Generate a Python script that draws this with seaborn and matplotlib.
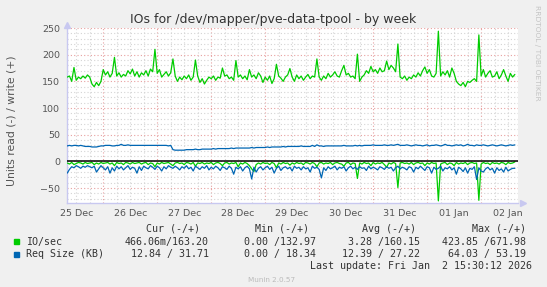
import numpy as np
import pandas as pd
import matplotlib
matplotlib.use('Agg')
import matplotlib.pyplot as plt
from matplotlib.ticker import MultipleLocator, FuncFormatter
from matplotlib.patches import Rectangle
import seaborn as sns

# hours since 25 Dec 00:00, one sample per hour
hours = list(range(8, 208))
day_labels = ['25 Dec', '26 Dec', '27 Dec', '28 Dec', '29 Dec',
              '30 Dec', '31 Dec', '01 Jan', '02 Jan']

io_write = [
    158, 160, 150, 176, 152, 158, 155, 160, 156, 162,
    158, 145, 140, 148, 142, 150, 172, 162, 168, 158,
    165, 195, 160, 166, 158, 163, 160, 170, 164, 173,
    160, 168, 158, 166, 162, 170, 160, 173, 168, 210,
    165, 172, 158, 163, 168, 160, 166, 192, 160, 150,
    158, 153, 160, 155, 162, 152, 158, 190, 160, 148,
    155, 145, 152, 158, 155, 160, 152, 158, 156, 175,
    160, 162, 155, 158, 152, 189, 158, 162, 155, 160,
    153, 172, 158, 162, 155, 166, 160, 148, 158, 152,
    160, 146, 155, 182, 160, 156, 150, 158, 162, 174,
    158, 150, 162, 155, 160, 152, 158, 163, 155, 160,
    158, 192, 158, 152, 160, 155, 165, 158, 162, 168,
    160, 158, 170, 180, 162, 165, 158, 160, 155, 201,
    150, 158, 162, 170, 165, 178, 168, 172, 165, 175,
    168, 170, 188, 172, 180, 175, 168, 220, 158, 155,
    160, 152, 158, 155, 162, 158, 166, 160, 170, 177,
    165, 172, 160, 158, 165, 244, 160, 168, 162, 170,
    158, 175, 165, 150, 145, 142, 148, 140, 150, 148,
    152, 155, 150, 237, 160, 172, 158, 165, 170, 158,
    160, 168, 155, 162, 172, 160, 150, 165, 158, 163,
]

io_read = [
    -3, -5, -2, -6, -4, -2, -3, -5, -2, -4,
    -3, -2, -6, -3, -5, -2, -4, -3, -2, -5,
    -3, -8, -2, -4, -3, -6, -2, -3, -5, -2,
    -4, -3, -2, -5, -3, -2, -6, -3, -4, -10,
    -3, -5, -2, -4, -3, -2, -5, -8, -3, -2,
    -4, -3, -6, -2, -3, -5, -2, -9, -3, -4,
    -2, -5, -3, -4, -2, -6, -3, -2, -4, -8,
    -3, -2, -5, -3, -4, -2, -10, -3, -5, -2,
    -4, -8, -14, -19, -6, -3, -5, -2, -4, -3,
    -6, -2, -4, -12, -3, -5, -2, -4, -3, -7,
    -3, -5, -2, -4, -3, -6, -2, -3, -5, -2,
    -4, -10, -3, -2, -5, -3, -4, -2, -6, -3,
    -2, -4, -5, -9, -3, -2, -6, -3, -4, -32,
    -3, -5, -2, -4, -3, -8, -2, -5, -3, -4,
    -2, -6, -11, -3, -5, -2, -4, -49, -3, -2,
    -4, -3, -5, -2, -6, -3, -2, -4, -3, -8,
    -3, -5, -2, -4, -3, -74, -5, -3, -2, -6,
    -3, -4, -8, -2, -5, -3, -4, -2, -6, -3,
    -2, -4, -3, -73, -5, -2, -4, -3, -6, -2,
    -4, -3, -5, -2, -3, -6, -2, -4, -3, -1,
]

req_write = [
    29, 30, 29, 30, 30, 29, 30, 29, 28, 28,
    28, 27, 27, 27, 28, 29, 29, 30, 30, 30,
    29, 29, 30, 30, 32, 30, 30, 31, 30, 30,
    30, 30, 30, 30, 30, 30, 30, 30, 30, 30,
    30, 30, 30, 30, 30, 29, 30, 22, 21, 21,
    21, 21, 21, 22, 22, 22, 22, 23, 22, 22,
    23, 23, 23, 23, 23, 24, 23, 24, 24, 24,
    24, 24, 24, 25, 24, 25, 25, 25, 25, 25,
    25, 25, 26, 25, 26, 26, 26, 26, 26, 27,
    26, 27, 27, 27, 27, 27, 28, 27, 28, 28,
    28, 28, 28, 28, 29, 28, 28, 28, 28, 30,
    28, 31, 29, 29, 28, 29, 29, 29, 29, 29,
    29, 29, 29, 30, 29, 29, 29, 29, 30, 29,
    30, 29, 30, 30, 30, 30, 31, 30, 30, 30,
    30, 31, 30, 30, 31, 30, 31, 32, 30, 30,
    30, 31, 30, 29, 30, 31, 30, 30, 29, 30,
    31, 29, 30, 30, 31, 30, 29, 30, 32, 30,
    30, 29, 30, 31, 30, 31, 29, 30, 32, 30,
    30, 29, 31, 30, 30, 31, 30, 29, 30, 31,
    30, 29, 30, 31, 30, 29, 30, 31, 30, 31,
]

req_read = [
    -22, -15, -10, -12, -8, -10, -13, -9, -11, -8,
    -10, -12, -9, -20, -14, -8, -12, -16, -10, -22,
    -12, -18, -9, -14, -10, -16, -12, -8, -15, -11,
    -13, -22, -10, -17, -9, -12, -14, -8, -11, -15,
    -9, -12, -18, -10, -14, -8, -11, -13, -9, -12,
    -16, -10, -13, -8, -14, -11, -18, -9, -12, -15,
    -10, -13, -8, -16, -11, -14, -9, -12, -17, -10,
    -12, -15, -9, -13, -24, -11, -14, -10, -18, -12,
    -9, -14, -33, -11, -20, -13, -10, -16, -12, -9,
    -15, -11, -22, -13, -9, -17, -12, -10, -14, -11,
    -18, -9, -13, -11, -16, -10, -14, -12, -20, -9,
    -13, -11, -15, -31, -12, -17, -10, -14, -12, -9,
    -16, -11, -13, -10, -18, -12, -9, -14, -11, -15,
    -10, -13, -12, -17, -9, -14, -11, -13, -16, -10,
    -12, -15, -10, -13, -11, -18, -12, -9, -14, -11,
    -13, -16, -10, -12, -20, -11, -14, -9, -13, -17,
    -10, -12, -22, -11, -15, -13, -9, -18, -12, -14,
    -10, -16, -12, -24, -11, -14, -19, -12, -22, -13,
    -15, -10, -34, -12, -18, -20, -14, -11, -16, -13,
    -22, -12, -17, -14, -20, -11, -18, -15, -13, -13,
]

legend_names = ['IO/sec', 'Req Size (KB)']
legend_cols = ['Cur (-/+)', 'Min (-/+)', 'Avg (-/+)', 'Max (-/+)']
legend_rows = [
    ['466.06m/163.20', '0.00 /132.97', '3.28 /160.15', '423.85 /671.98'],
    ['12.84 / 31.71', '0.00 / 18.34', '12.39 / 27.22', '64.03 / 53.19'],
]

GREEN = '#00CC00'
BLUE = '#0066B3'
AXIS_C = '#C8C8F0'

sns.set_theme(style='white')
plt.rcParams['font.family'] = ['DejaVu Sans']

W, H = 547, 287
fig = plt.figure(figsize=(W / 100, H / 100), dpi=100, facecolor='#F0F0F0')


def fx(px):
    return px / W


def fy(py):
    return 1 - py / H


ax = fig.add_axes([fx(67), fy(203), fx(518) - fx(67), fy(28) - fy(203)])
ax.set_facecolor('white')

df = pd.DataFrame({'hour': hours, 'io_write': io_write, 'io_read': io_read,
                   'req_write': req_write, 'req_read': req_read})

for col, color in [('io_write', GREEN), ('io_read', GREEN),
                   ('req_write', BLUE), ('req_read', BLUE)]:
    sns.lineplot(data=df, x='hour', y=col, color=color, lw=0.9, ax=ax,
                 legend=False, zorder=3)
ax.axhline(0, color='black', lw=1.1, zorder=4)

ax.set_xlim(7.9, 208.4)
ax.set_ylim(-78, 250)

# grid: red at midnight / every 50, grey every 6h / every 10
ax.xaxis.set_major_locator(MultipleLocator(24))
ax.xaxis.set_minor_locator(MultipleLocator(6))
ax.yaxis.set_major_locator(MultipleLocator(50))
ax.yaxis.set_minor_locator(MultipleLocator(10))


def day_fmt(h, pos):
    if int(round(h)) % 24 == 12:
        k = int(round(h)) // 24
        if 0 <= k < len(day_labels):
            return day_labels[k]
    return ''


ax.xaxis.set_major_formatter(FuncFormatter(lambda h, pos: ''))
ax.xaxis.set_minor_formatter(FuncFormatter(day_fmt))
ax.grid(which='major', color='#E8A0A0', linestyle=(0, (1, 2)), lw=0.8, zorder=1)
ax.grid(which='minor', color='#D4D4D4', linestyle=(0, (1, 2)), lw=0.8, zorder=0)
ax.tick_params(axis='both', which='both', length=0, labelsize=6.8,
               labelcolor='#555555')
ax.tick_params(axis='x', which='minor', pad=4)
ax.tick_params(axis='y', which='major', pad=5)
ax.set_xlabel('')
ax.set_ylabel('Units read (-) / write (+)', fontsize=7.8, color='#555555')
ax.yaxis.set_label_coords(-0.113, 0.47)

for s in ['top', 'right']:
    ax.spines[s].set_visible(False)
for s in ['left', 'bottom']:
    ax.spines[s].set_color(AXIS_C)
    ax.spines[s].set_linewidth(1)
ax.plot([0], [1.015], marker='^', color=AXIS_C, ms=4, transform=ax.transAxes,
        clip_on=False)
ax.plot([1.01], [0], marker='>', color=AXIS_C, ms=4, transform=ax.transAxes,
        clip_on=False)

fig.text(0.5, fy(19.5), 'IOs for /dev/mapper/pve-data-tpool - by week',
         ha='center', va='center', fontsize=9.0, color='#333333')
fig.text(fx(537), fy(5), 'RRDTOOL / TOBI OETIKER', rotation=270, ha='center',
         va='top', fontsize=5.4, color='#C4C4C4')

mono = dict(family='DejaVu Sans Mono', fontsize=7.2, color='#333333',
            va='center')
header_x = [200.5, 309, 416, 525.5]
value_x = [209, 315.5, 420.5, 525.5]
for x, t in zip(header_x, legend_cols):
    fig.text(fx(x), fy(228.6), t, ha='right', **mono)
for row_y, name, color, vals in zip([241.5, 254], legend_names, [GREEN, BLUE],
                                    legend_rows):
    fig.patches.append(Rectangle((fx(14), fy(row_y + 2.5)), fx(5), 5 / H,
                                 transform=fig.transFigure, color=color))
    fig.text(fx(26), fy(row_y), name, ha='left', **mono)
    for x, v in zip(value_x, vals):
        fig.text(fx(x), fy(row_y), v, ha='right', **mono)
fig.text(fx(532), fy(266.3), 'Last update: Fri Jan  2 15:30:12 2026',
         ha='right', **mono)
fig.text(fx(272), fy(279.5), 'Munin 2.0.57', ha='center', va='center',
         fontsize=5.2, color='#BBBBBB')

fig.savefig('out.png', dpi=100, facecolor=fig.get_facecolor())
